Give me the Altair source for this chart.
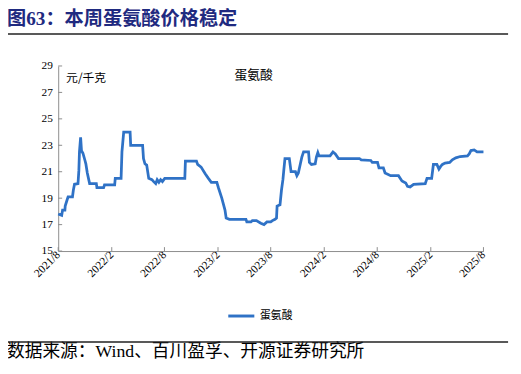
import altair as alt
import pandas as pd

# ---------------- data ----------------
dates = [
    "2021-08-01", "2021-08-13", "2021-08-16", "2021-08-24", "2021-08-25", "2021-09-01",
    "2021-09-04", "2021-09-19", "2021-09-22", "2021-09-26", "2021-10-08", "2021-10-11",
    "2021-10-13", "2021-10-17", "2021-10-20", "2021-10-25", "2021-11-01", "2021-11-04",
    "2021-11-09", "2021-11-13", "2021-11-17", "2021-12-10", "2021-12-12", "2022-01-04",
    "2022-01-07", "2022-02-11", "2022-02-13", "2022-03-05", "2022-03-08", "2022-03-10",
    "2022-03-14", "2022-04-05", "2022-04-07", "2022-05-18", "2022-05-21", "2022-05-26",
    "2022-06-01", "2022-06-08", "2022-06-19", "2022-06-25", "2022-07-02", "2022-07-07",
    "2022-07-13", "2022-07-19", "2022-07-25", "2022-08-02", "2022-10-10", "2022-10-12",
    "2022-11-19", "2022-11-23", "2022-12-05", "2022-12-19", "2022-12-30", "2023-01-09",
    "2023-01-28", "2023-02-03", "2023-02-14", "2023-02-25", "2023-03-01", "2023-03-12",
    "2023-05-08", "2023-05-11", "2023-05-25", "2023-05-30", "2023-06-13", "2023-06-28",
    "2023-07-09", "2023-07-19", "2023-08-01", "2023-08-07", "2023-08-16", "2023-08-21",
    "2023-08-23", "2023-09-02", "2023-09-07", "2023-09-12", "2023-09-15", "2023-09-19",
    "2023-10-04", "2023-10-10", "2023-10-25", "2023-10-30", "2023-11-04", "2023-11-11",
    "2023-11-16", "2023-11-22", "2023-12-09", "2023-12-12", "2023-12-19", "2024-01-01",
    "2024-01-05", "2024-01-10", "2024-01-14", "2024-01-18", "2024-02-21", "2024-02-26",
    "2024-03-02", "2024-03-10", "2024-03-21", "2024-06-01", "2024-06-07", "2024-07-10",
    "2024-07-15", "2024-08-02", "2024-08-07", "2024-08-22", "2024-08-28", "2024-09-16",
    "2024-10-13", "2024-10-25", "2024-11-07", "2024-11-13", "2024-11-22", "2024-12-04",
    "2025-01-13", "2025-01-19", "2025-02-04", "2025-02-10", "2025-02-22", "2025-03-01",
    "2025-03-07", "2025-03-13", "2025-03-22", "2025-04-07", "2025-04-16", "2025-04-28",
    "2025-05-13", "2025-06-07", "2025-06-13", "2025-06-19", "2025-06-30", "2025-07-10",
    "2025-08-01",
]
values = [
    17.8, 17.7, 18.1, 18.1, 18.4, 18.9,
    19.1, 19.1, 19.6, 20.05, 20.1, 21.1,
    22.5, 23.6, 22.6, 22.4, 21.85, 21.6,
    20.9, 20.5, 20.1, 20.1, 19.8, 19.8,
    20.0, 20.0, 20.5, 20.5, 22.5, 23.0,
    24.0, 24.0, 23.0, 23.0, 22.0, 21.6,
    21.5, 20.5, 20.4, 20.25, 20.1, 20.4,
    20.2, 20.4, 20.25, 20.5, 20.5, 21.8,
    21.8, 21.55, 21.35, 20.85, 20.5, 20.2,
    20.2, 19.75, 19.0, 18.1, 17.5, 17.4,
    17.4, 17.2, 17.2, 17.3, 17.3, 17.1,
    17.0, 17.2, 17.2, 17.3, 17.4, 17.5,
    18.4, 18.5, 19.6, 20.4, 21.1, 22.0,
    22.0, 21.0, 21.0, 20.7, 20.9, 21.6,
    22.1, 22.5, 22.5, 21.7, 21.55, 21.6,
    22.1, 22.45, 22.2, 22.2, 22.2, 22.35,
    22.5, 22.35, 22.0, 22.0, 21.9, 21.85,
    21.7, 21.7, 21.3, 21.3, 20.9, 20.7,
    20.7, 20.3, 20.15, 19.9, 19.85, 20.05,
    20.1, 20.5, 20.5, 21.55, 21.55, 21.2,
    21.4, 21.55, 21.65, 21.7, 21.9, 22.05,
    22.15, 22.2, 22.35, 22.6, 22.65, 22.5,
    22.5,
]
y_ticks = [15, 17, 19, 21, 23, 25, 27, 29]
x_ticks = ["2021-08-01", "2022-02-01", "2022-08-01", "2023-02-01", "2023-08-01",
           "2024-02-01", "2024-08-01", "2025-02-01", "2025-08-01"]
series_name = "蛋氨酸"
unit_label = "元/千克"
title_text = "图63：本周蛋氨酸价格稳定"
source_text = "数据来源：Wind、百川盈孚、开源证券研究所"

# ---------------- styling ----------------
W, H = 432, 188
BLUE = "#2F72C6"
AXIS = "#8c8c8c"
SERIF = "Liberation Serif, Noto Sans CJK SC"
CJK = "Noto Sans CJK SC"

df = pd.DataFrame({"date": dates, "value": values, "series": series_name})

x_scale = alt.Scale(type="utc",
                    domain=[alt.DateTime(year=2021, month=8, date=1, utc=True),
                            alt.DateTime(year=2025, month=8, date=1, utc=True)])
y_scale = alt.Scale(domain=[15, 29], nice=False, zero=False)

x_axis = alt.Axis(values=[alt.DateTime(year=int(d[:4]), month=int(d[5:7]), date=1, utc=True) for d in x_ticks],
                  labelExpr="utcFormat(datum.value, '%Y/%-m')",
                  labelAngle=-45, labelAlign="right", labelBaseline="middle",
                  labelFont="Liberation Serif", labelFontSize=11.5, labelColor="#000",
                  labelPadding=2, labelOverlap=False, labelFlush=False,
                  domainColor=AXIS, tickSize=0, grid=False, title=None)
y_axis = alt.Axis(values=y_ticks, labelFont="Liberation Serif", labelFontSize=11.5,
                  labelColor="#000", labelPadding=6, labelOverlap=False, labelFlush=False,
                  domainColor=AXIS, tickSize=0, grid=False, title=None)

line = alt.Chart(df).mark_line(strokeWidth=2.8).encode(
    x=alt.X("date:T", scale=x_scale, axis=x_axis),
    y=alt.Y("value:Q", scale=y_scale, axis=y_axis),
    color=alt.Color("series:N",
                    scale=alt.Scale(domain=[series_name], range=[BLUE]),
                    legend=alt.Legend(orient="none", legendX=171, legendY=239, title=None,
                                      symbolType="stroke", symbolSize=700,
                                      symbolStrokeWidth=3, labelFont=CJK,
                                      labelFontSize=11, labelColor="#000",
                                      labelOffset=4)),
)

ytick_df = pd.DataFrame({"value": y_ticks})
yticks = alt.Chart(ytick_df).mark_rule(color=AXIS, strokeWidth=1).encode(
    y=alt.Y("value:Q", scale=y_scale, axis=y_axis), x=alt.value(0), x2=alt.value(4))

xtick_df = pd.DataFrame({"date": x_ticks})
xticks = alt.Chart(xtick_df).mark_rule(color=AXIS, strokeWidth=1).encode(
    x=alt.X("date:T", scale=x_scale, axis=x_axis), y=alt.value(H), y2=alt.value(H - 4))


def txt(s, x, y, size, font, color="#000", weight="normal"):
    return alt.Chart(alt.Data(values=[{"t": s}])).mark_text(
        align="left", baseline="middle", fontSize=size, font=font,
        color=color, fontWeight=weight).encode(
        text="t:N", x=alt.value(x), y=alt.value(y))


def hrule(y):
    return alt.Chart(alt.Data(values=[{"a": 1}])).mark_rule(
        color="#222", strokeWidth=1.5).encode(
        x=alt.value(-54), x2=alt.value(457), y=alt.value(y))


title = txt(title_text, -52, -48, 19.5, "Liberation Serif, Noto Sans CJK SC", "#1F2A80", "bold")
unit = txt(unit_label, 8, 12, 12, CJK)
name = txt(series_name, 179, 9, 13, CJK)
source = txt(source_text, -52, 291, 18, SERIF)

chart = alt.layer(line, yticks, xticks, title, unit, name, source, hrule(-32.5), hrule(280.5)).properties(
    width=W, height=H,
    background="white",
    padding={"left": 51, "top": 56, "right": 30, "bottom": 122},
    autosize=alt.AutoSizeParams(type="none"),
).configure_view(stroke=None, strokeWidth=0)

chart.save("out.html", embed_options={"renderer": "svg", "actions": False})
